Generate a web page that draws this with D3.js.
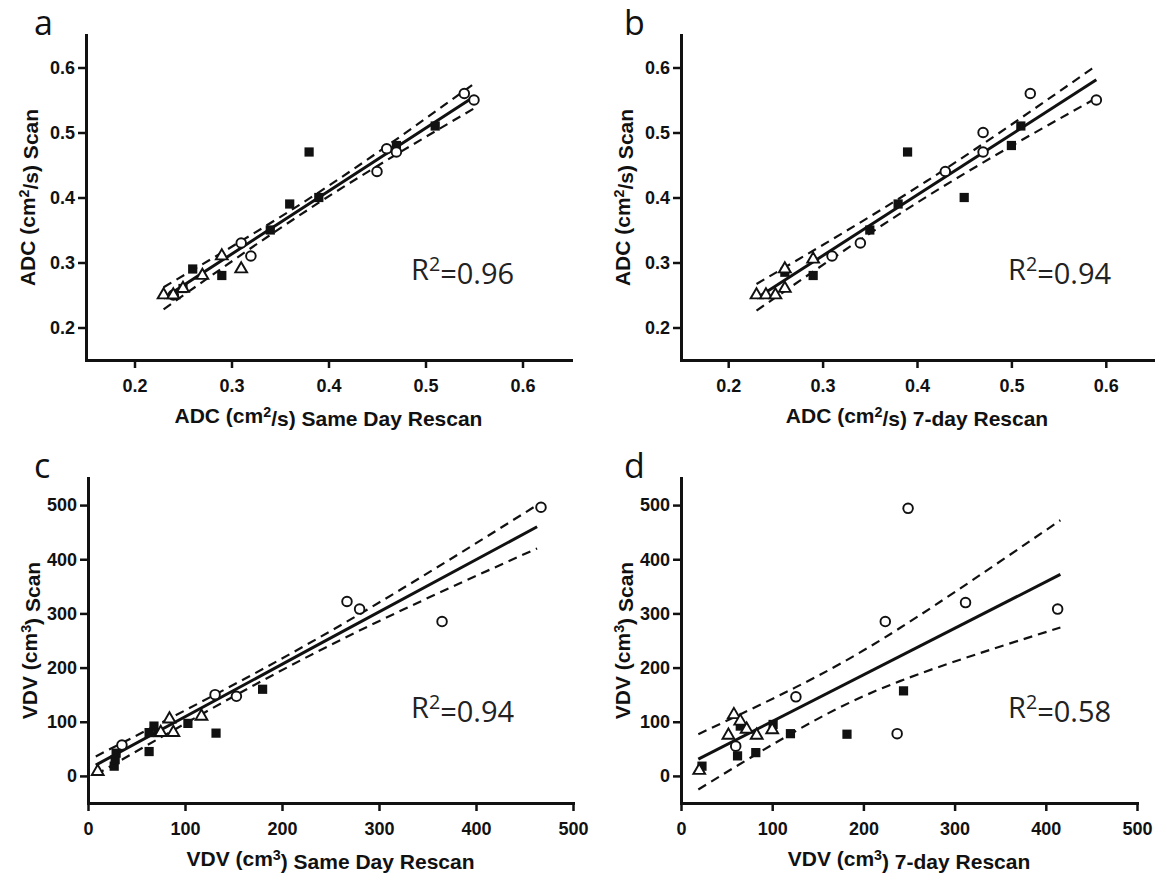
<!DOCTYPE html>
<html>
<head>
<meta charset="utf-8">
<script src="https://cdn.jsdelivr.net/npm/d3@7"></script>
<style>
  body { margin: 0; background: #fff; }
  svg { display: block; }
  .axis text { font-family: "Liberation Sans", Arial, sans-serif; font-weight: bold; font-size: 18px; fill: #111; }
  .axis path, .axis line { stroke: #111; }
</style>
</head>
<body>
<svg width="1163" height="878"></svg>
<script>
// tick labels
const adcTicks = [0.2, 0.3, 0.4, 0.5, 0.6];
const vdvTicks = [0, 100, 200, 300, 400, 500];

// panel a : ADC scan vs same day rescan
const aSquares = [[0.25,0.26],[0.26,0.29],[0.29,0.28],[0.34,0.35],[0.36,0.39],[0.38,0.47],[0.39,0.40],[0.47,0.48],[0.51,0.51]];
const aCircles = [[0.24,0.25],[0.31,0.33],[0.32,0.31],[0.45,0.44],[0.46,0.475],[0.47,0.47],[0.54,0.56],[0.55,0.55]];
const aTriangles = [[0.23,0.25],[0.24,0.25],[0.25,0.26],[0.27,0.28],[0.29,0.31],[0.31,0.29]];
const aFitX = [0.23, 0.39, 0.55];
const aFitY = [0.245, 0.40, 0.555];
const aUpper = [0.262, 0.408, 0.575];
const aLower = [0.228, 0.392, 0.537];

// panel b : ADC scan vs 7-day rescan
const bSquares = [[0.26,0.285],[0.29,0.28],[0.35,0.35],[0.38,0.39],[0.39,0.47],[0.45,0.40],[0.50,0.48],[0.51,0.51]];
const bCircles = [[0.31,0.31],[0.34,0.33],[0.43,0.44],[0.47,0.50],[0.47,0.47],[0.52,0.56],[0.59,0.55]];
const bTriangles = [[0.23,0.25],[0.24,0.25],[0.25,0.25],[0.26,0.26],[0.26,0.29],[0.29,0.305]];
const bFitX = [0.23, 0.41, 0.59];
const bFitY = [0.245, 0.413, 0.581];
const bUpper = [0.267, 0.425, 0.603];
const bLower = [0.226, 0.401, 0.553];

// panel c : VDV scan vs same day rescan
const cSquares = [[27,18],[28,30],[29,42],[63,45],[63,80],[68,92],[72,80],[103,97],[132,79],[180,160]];
const cCircles = [[35,57],[131,150],[153,147],[267,322],[280,308],[365,285],[467,496]];
const cTriangles = [[10,8],[75,80],[84,105],[88,80],[117,110]];
const cFitX = [8, 235, 463];
const cFitY = [20, 240, 460];
const cUpper = [36, 252, 500];
const cLower = [2, 228, 420];

// panel d : VDV scan vs 7-day rescan
const dSquares = [[23,18],[62,37],[65,92],[82,43],[101,95],[120,78],[182,77],[244,157]];
const dCircles = [[60,55],[126,146],[224,285],[237,78],[249,494],[312,320],[413,308]];
const dTriangles = [[20,10],[52,75],[58,113],[65,101],[72,86],[83,75],[100,85]];
const dFitX = [19, 416];
const dFitY = [31, 372];
const dBandX = [19, 125, 240, 416];
const dUpper = [77, 163, 273, 472];
const dLower = [-25, 82, 175, 274];

const svg = d3.select('svg');

function sup(sel, parts) {
  // parts: [text, superscript, text]
  sel.append('tspan').text(parts[0]);
  sel.append('tspan').attr('dy', '-0.45em').attr('font-size', '0.68em').text(parts[1]);
  sel.append('tspan').attr('dy', '0.45em').text(parts[2]);
}

function drawPanel(p) {
  const x = d3.scaleLinear().domain(p.xDomain).range([p.left, p.right]);
  const y = d3.scaleLinear().domain(p.yDomain).range([p.bottom, p.top]);
  const g = svg.append('g');

  const fmt = p.fmt;
  g.append('g').attr('class', 'axis')
    .attr('transform', `translate(0,${p.bottom})`)
    .call(d3.axisBottom(x).tickValues(p.xTicks).tickSize(8).tickPadding(11).tickSizeOuter(0).tickFormat(fmt));
  g.append('g').attr('class', 'axis')
    .attr('transform', `translate(${p.left},0)`)
    .call(d3.axisLeft(y).tickValues(p.yTicks).tickSize(8).tickPadding(3).tickSizeOuter(0).tickFormat(fmt));
  g.selectAll('.axis .domain').attr('stroke-width', 3).attr('stroke-linecap', 'square');
  g.selectAll('.axis .tick line').attr('stroke-width', 2.5);

  // regression line and confidence band
  const line = d3.line().x(d => x(d[0])).y(d => y(d[1]));
  const band = d3.line().x(d => x(d[0])).y(d => y(d[1])).curve(d3.curveNatural);
  const bandX = p.bandX || p.fitX;
  [p.upper, p.lower].forEach(arr => {
    g.append('path')
      .datum(bandX.map((v, i) => [v, arr[i]]))
      .attr('d', band)
      .attr('fill', 'none').attr('stroke', '#111')
      .attr('stroke-width', 2.2).attr('stroke-dasharray', '9,6');
  });
  g.append('path')
    .datum(p.fitX.map((v, i) => [v, p.fitY[i]]))
    .attr('d', line)
    .attr('fill', 'none').attr('stroke', '#111').attr('stroke-width', 3);

  // points
  g.selectAll('.sq').data(p.squares).enter().append('path')
    .attr('d', d3.symbol(d3.symbolSquare, 85))
    .attr('transform', d => `translate(${x(d[0])},${y(d[1])})`)
    .attr('fill', '#111');
  g.selectAll('.ci').data(p.circles).enter().append('circle')
    .attr('cx', d => x(d[0])).attr('cy', d => y(d[1])).attr('r', 4.8)
    .attr('fill', '#fff').attr('stroke', '#111').attr('stroke-width', 1.9);
  g.selectAll('.tr').data(p.triangles).enter().append('path')
    .attr('d', d3.symbol(d3.symbolTriangle2, 100))
    .attr('transform', d => `translate(${x(d[0])},${y(d[1])})`)
    .attr('fill', '#fff').attr('stroke', '#111').attr('stroke-width', 1.9);

  // panel letter
  svg.append('text').attr('x', p.letterX).attr('y', p.top)
    .attr('font-family', '"Open Sans", sans-serif').attr('font-size', 34).attr('fill', '#111')
    .text(p.letter);

  // axis titles
  const xt = svg.append('text')
    .attr('x', (p.left + p.right) / 2).attr('y', p.bottom + 63)
    .attr('text-anchor', 'middle')
    .attr('font-family', '"Liberation Sans", Arial, sans-serif').attr('font-weight', 'bold')
    .attr('font-size', 21).attr('fill', '#111');
  sup(xt, p.xTitle);
  const yt = svg.append('text')
    .attr('transform', `translate(${p.left - 51},${(p.top + p.bottom) / 2}) rotate(-90)`)
    .attr('text-anchor', 'middle')
    .attr('font-family', '"Liberation Sans", Arial, sans-serif').attr('font-weight', 'bold')
    .attr('font-size', 21).attr('fill', '#111');
  sup(yt, p.yTitle);

  // R squared
  const rt = svg.append('text').attr('x', p.rX).attr('y', p.rY)
    .attr('font-family', '"Open Sans", sans-serif').attr('font-size', 29).attr('fill', '#222');
  sup(rt, ['R', '2', p.r2]);
}

const fmtAdc = d3.format('.1f');
const fmtVdv = d3.format('d');

drawPanel({
  letter: 'a', letterX: 34, left: 86, right: 571, top: 35, bottom: 360,
  xDomain: [0.15, 0.65], yDomain: [0.15, 0.65], xTicks: adcTicks, yTicks: adcTicks, fmt: fmtAdc,
  squares: aSquares, circles: aCircles, triangles: aTriangles,
  fitX: aFitX, fitY: aFitY, upper: aUpper, lower: aLower,
  xTitle: ['ADC (cm', '2', '/s) Same Day Rescan'], yTitle: ['ADC (cm', '2', '/s) Scan'],
  r2: '=0.96', rX: 411, rY: 280
});
drawPanel({
  letter: 'b', letterX: 624, left: 681, right: 1153, top: 35, bottom: 360,
  xDomain: [0.15, 0.65], yDomain: [0.15, 0.65], xTicks: adcTicks, yTicks: adcTicks, fmt: fmtAdc,
  squares: bSquares, circles: bCircles, triangles: bTriangles,
  fitX: bFitX, fitY: bFitY, upper: bUpper, lower: bLower,
  xTitle: ['ADC (cm', '2', '/s) 7-day Rescan'], yTitle: ['ADC (cm', '2', '/s) Scan'],
  r2: '=0.94', rX: 1008, rY: 280
});
drawPanel({
  letter: 'c', letterX: 34, left: 88, right: 573, top: 478, bottom: 803,
  xDomain: [0, 500], yDomain: [-50, 550], xTicks: vdvTicks, yTicks: vdvTicks, fmt: fmtVdv,
  squares: cSquares, circles: cCircles, triangles: cTriangles,
  fitX: cFitX, fitY: cFitY, upper: cUpper, lower: cLower,
  xTitle: ['VDV (cm', '3', ') Same Day Rescan'], yTitle: ['VDV (cm', '3', ') Scan'],
  r2: '=0.94', rX: 411, rY: 718
});
drawPanel({
  letter: 'd', letterX: 624, left: 681, right: 1137, top: 478, bottom: 803,
  xDomain: [0, 500], yDomain: [-50, 550], xTicks: vdvTicks, yTicks: vdvTicks, fmt: fmtVdv,
  squares: dSquares, circles: dCircles, triangles: dTriangles,
  fitX: dFitX, fitY: dFitY, bandX: dBandX, upper: dUpper, lower: dLower,
  xTitle: ['VDV (cm', '3', ') 7-day Rescan'], yTitle: ['VDV (cm', '3', ') Scan'],
  r2: '=0.58', rX: 1008, rY: 718
});
</script>
</body>
</html>
